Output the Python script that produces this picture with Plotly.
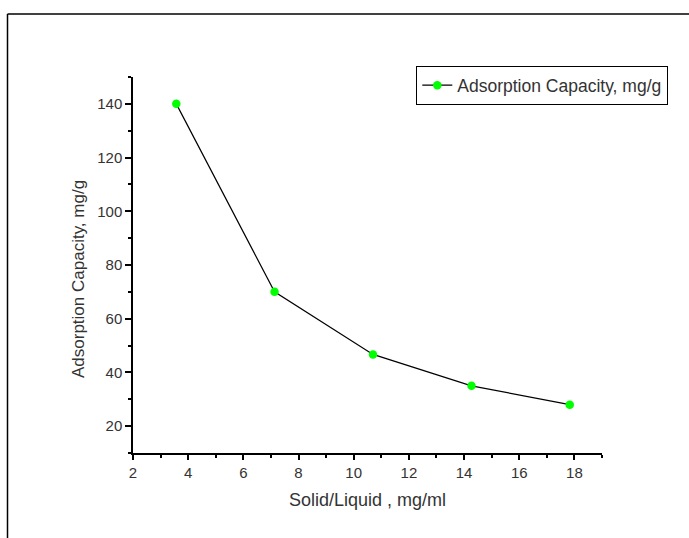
import plotly.graph_objects as go

# Data
solid_liquid = [3.57, 7.13, 10.7, 14.27, 17.83]
adsorption_capacity = [140, 70, 46.7, 35, 28]
series_name = "Adsorption Capacity, mg/g"
x_title = "Solid/Liquid , mg/ml"
y_title = "Adsorption Capacity, mg/g"

W, H = 689, 538
L, R, T, B = 133, 87, 77, 85
pw, ph = W - L - R, H - T - B

def px(x):
    return (x - L) / pw

def py(y):
    return (H - B - y) / ph

fig = go.Figure()
fig.add_trace(go.Scatter(
    x=solid_liquid, y=adsorption_capacity, mode="lines+markers",
    name=series_name,
    line=dict(color="black", width=1.2),
    marker=dict(color="#00ff00", size=8.5, symbol="circle", line=dict(width=0)),
))

txt = "#333333"
font_family = "Liberation Sans, Arial, sans-serif"
fig.update_layout(
    width=W, height=H,
    margin=dict(l=L, r=R, t=T, b=B, pad=0),
    paper_bgcolor="white", plot_bgcolor="white",
    font=dict(family=font_family, size=15, color=txt),
    showlegend=True,
    legend=dict(
        x=px(416), y=py(66), xanchor="left", yanchor="top",
        bordercolor="black", borderwidth=1.3, bgcolor="white",
        font=dict(size=17.5, color=txt),
        itemwidth=30, tracegroupgap=0,
    ),
    xaxis=dict(
        range=[2, 19], tickmode="linear", tick0=2, dtick=2,
        showgrid=False, zeroline=False,
        showline=True, linecolor="black", linewidth=1.5,
        ticks="outside", ticklen=5, tickwidth=1.5, tickcolor="black",
        minor=dict(dtick=1, tick0=1, ticks="outside", ticklen=3, tickcolor="black", tickwidth=1.5),
        tickfont=dict(size=15, color=txt),
        title=dict(text=x_title, font=dict(size=18, color=txt), standoff=14),
    ),
    yaxis=dict(
        range=[10, 150], tickmode="linear", tick0=20, dtick=20,
        showgrid=False, zeroline=False,
        showline=True, linecolor="black", linewidth=1.5,
        ticks="outside", ticklen=6, tickwidth=1.5, tickcolor="black",
        minor=dict(dtick=20, tick0=10, ticks="outside", ticklen=3, tickcolor="black", tickwidth=1.5),
        tickfont=dict(size=15, color=txt),
    ),
    annotations=[
        dict(text=y_title, xref="paper", yref="paper", x=px(78), y=py(279),
             xanchor="center", yanchor="middle", textangle=-90, showarrow=False,
             font=dict(size=17, color=txt)),
    ],
    shapes=[
        dict(type="line", xref="paper", yref="paper",
             x0=px(7.5), x1=px(700), y0=py(14), y1=py(14),
             line=dict(color="black", width=1.5)),
        dict(type="line", xref="paper", yref="paper",
             x0=px(7.5), x1=px(7.5), y0=py(14), y1=py(545),
             line=dict(color="black", width=1.5)),
    ],
)

fig.write_html("out.html")
